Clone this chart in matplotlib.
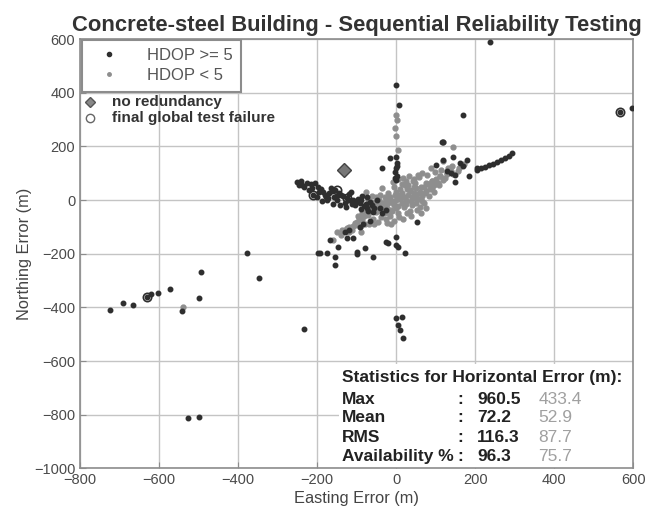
import matplotlib
matplotlib.use("Agg")
import matplotlib.pyplot as plt
from matplotlib.patches import Rectangle
from matplotlib.lines import Line2D

plt.rcParams['font.family'] = ['Liberation Sans', 'DejaVu Sans']

# position errors with HDOP >= 5 (easting, northing in metres)
hi_east = [-724, -691, -666, -631, -620, -603, -572, -542, -499, -494, -377, -347, -233, -197,
           -527, -499, 238, 0, 8, 170, 567, 598, 116,
           205, 215, 225, 235, 245, 255, 265, 275, 285, 294,
           0, 15, 5, 10, 18,
           -251, -240, -226, -215, -205, -210, -200, -190, -175, -165, -154, -150, -140, -124,
           -115, -109, -100, -91, -85, -73, -73, -58, -48, -60, -130, -180, -160, -40,
           -245, -232, -220, -198, -185, -170, -158, -145, -135, -120, -112, -96, -82, -66,
           -188, -172, -142, -128, -105, -90, -70, -55, -35, -25,
           -238, -212, -196, -178, -162, -148, -118, -104, -88, -76,
           0, 2, -2, 0, 3, 1, -3, 2,
           -91, -109, -124, -167, -147, -192, -175, -154, -154, -99, -78, -58, -20, 0, 23,
           -100, 53, 0, 5, -25, -130, -118, -84, -66,
           149, 205, 162, 180, 143, 119, -35, -15, 100, 130, 150, 185, 170, 120, 140]
hi_north = [-410, -384, -391, -361, -350, -346, -332, -413, -365, -268, -197, -290, -480, -198,
            -812, -808, 590, 430, 354, 317, 328, 343, 216,
            112, 118, 124, 130, 136, 143, 150, 158, 166, 175,
            -440, -436, -466, -484, -514,
            68, 70, 63, 60, 63, 19, 11, 40, 0, 45, 37, 0, 20, 7,
            30, 0, -5, -11, 15, -30, 11, -45, 0, -20, -10, 20, -15, -30,
            55, 48, 38, 50, 30, 25, 10, 28, 15, 22, -15, 5, -22, -8,
            -5, 8, -20, -25, -18, -32, -40, -30, -50, -38,
            58, 45, 30, 12, 32, 18, 0, -12, 2, -14,
            75, 90, 105, 120, 138, 160, 82, 128,
            -100, -142, -142, -149, -175, -198, -198, -212, -242, -194, -179, -212, -160, -168, -198,
            -200, -82, -138, -175, -155, -120, -110, -88, -78,
            67, 119, 138, 150, 160, 216, 119, 156, 130, 110, 95, 90, 128, 150, 100]

# position errors with HDOP < 5
lo_east = [0, 10, -10, 20, -20, 5, -5, 15, -15, 30, -30, 25, -25, 0, 0, 35, -35, 40, -40, 10,
           -10, 45, -45, 50, -50, 20, -20, 55, -55, 60, -60, 30, -30, 70, -70, 65, -65, 40, -40,
           75, -75, 80, -80, 15, -15, 50, -50, 85, -85, 90, -90, 25, -25, 60, -60, 95, -95, 100,
           -100, 35, -35, 105, -105, 110, -110, 45, -45, 70, -70, 120, -120, 5, -5, 130, -130,
           55, -55, 140, 75, -75, 12, -8, 28, -22, 38, 48, -42, 18, 62, -12,
           -140, -160, -150, -118, -88, -68, 160, 172, 118, 96,
           -8, 22, 42, 58, 78, 98, 115, 132, 88, 66, 34, 4, -18, -38, -58, -78, -92, -112,
           -64, -44, -28, -2, 14, 36, 52, 72, 90, 108, 125, 145, 158, 102, 84, 46,
           -26, -48, -70, -96, -86, -104, -124, -136, -52, -32, -16, 6, 26, 48, 66, 84,
           8, 18, 28, 38, -4, -14, -24, 52, 62, 76, 92, 112, 128, 142,
           -540, 120, 144, 0, -2, 2, 0, 4]
lo_north = [0, 5, -5, 10, -10, 20, -20, -10, 10, 20, -20, 0, 0, 30, -30, 35, -30, 10, -10, 40,
            -40, 25, -35, 45, -45, -25, 25, 5, -10, 30, -30, 55, -50, 50, -55, 15, -20, -20, 20,
            35, -45, 60, -60, 60, -60, -10, 10, 40, -50, 70, -70, 70, -70, -25, 15, 55, -65, 80,
            -80, -40, 45, 65, -85, 90, -95, 80, -80, -10, 5, 75, -100, -50, 50, 100, -110,
            95, -90, 110, -30, 30, 15, -12, 42, -28, -5, 62, -18, 82, 48, -38,
            -130, -150, -120, -120, -118, -90, 120, 135, 145, 30,
            68, 58, 72, 86, 92, 104, 112, 120, 118, 100, 88, 78, -48, -62, -72, -88, -102, -112,
            -8, 2, 12, 18, 28, 38, 22, 26, 44, 58, 82, 96, 110, 66, 60, 50,
            -44, -28, -36, -58, -76, -94, -104, -112, -6, -12, -2, -22, -14, 8, -2, 14,
            -62, -72, -48, -58, -78, -90, -86, -36, -48, 64, 72, 88, 98, 126,
            -400, 216, 197, 240, 270, 300, 316, 185]

# epochs with no redundancy
nored_east = [-132]
nored_north = [112]

# epochs where the final global test failed
fail_east = [-210, -150, -124, -631, 567]
fail_north = [19, 37, 7, -361, 328]

stat_names = ['Max', 'Mean', 'RMS', 'Availability %']
stat_hi = ['960.5', '72.2', '116.3', '96.3']
stat_lo = ['433.4', '52.9', '87.7', '75.7']

dark = '#2e2e2e'
light = '#8e8e8e'

fig = plt.figure(figsize=(6.48, 5.21), dpi=100)
ax = fig.add_axes([0.1235, 0.101, 0.8535, 0.824])

ax.plot(lo_east, lo_north, '.', color=light, markersize=7, zorder=3)
ax.plot(hi_east, hi_north, '.', color=dark, markersize=6.5, zorder=4)
ax.plot(fail_east, fail_north, 'o', mfc='none', mec=dark, markersize=6, mew=1.2, zorder=5)
ax.plot(nored_east, nored_north, 'D', color='#777777', mec='#444444', markersize=7, zorder=5)

ax.set_xlim(-800, 600)
ax.set_ylim(-1000, 600)
ax.set_xticks(range(-800, 601, 200))
ax.set_yticks(range(-1000, 601, 200))
ax.set_axisbelow(True)
ax.grid(True, color='#c4c4c4', linewidth=1)
ax.tick_params(direction='in', length=4, colors='#8c8c8c', labelcolor='#4a4a4a', labelsize=10.5)
for sp in ax.spines.values():
    sp.set_color('#8c8c8c')
    sp.set_linewidth(1.2)

ax.set_xlabel('Easting Error (m)', fontsize=11.8, color='#444444', labelpad=3)
ax.set_ylabel('Northing Error (m)', fontsize=11.8, color='#444444', labelpad=1)
ax.set_title('Concrete-steel Building - Sequential Reliability Testing',
             fontsize=15.8, fontweight='bold', color='#333333', pad=6)

handles = [Line2D([], [], ls='none', marker='.', color=dark, markersize=6),
           Line2D([], [], ls='none', marker='.', color=light, markersize=5)]
leg = ax.legend(handles, ['HDOP >= 5', 'HDOP < 5'], loc='upper left',
                bbox_to_anchor=(0.004, 0.998), borderaxespad=0, fancybox=False,
                fontsize=12, handlelength=2.2, handletextpad=1.2, borderpad=0.5,
                labelspacing=0.3, framealpha=1)
leg.get_frame().set_edgecolor('#8c8c8c')
leg.get_frame().set_linewidth(1.5)
for t in leg.get_texts():
    t.set_color('#555555')

# marker key under the legend
ax.plot([-775], [365], 'D', color='#888888', mec='#555555', markersize=5, zorder=6)
ax.plot([-775], [305], 'o', mfc='none', mec='#666666', markersize=6, zorder=6)
ax.text(-720, 365, 'no redundancy', fontsize=11, fontweight='bold', color='#333333', va='center')
ax.text(-720, 305, 'final global test failure', fontsize=11, fontweight='bold',
        color='#333333', va='center')

# statistics block
ax.add_patch(Rectangle((-145, -1000), 745, 388, facecolor='white', edgecolor='none', zorder=2))
ax.text(-137, -663, 'Statistics for Horizontal Error (m):', fontsize=12.5, fontweight='bold',
        color='#222222', va='center', zorder=6)
row_y = [-745, -812, -886, -957]
for name, hi, lo, y in zip(stat_names, stat_hi, stat_lo, row_y):
    ax.text(-137, y, name, fontsize=12.5, fontweight='bold', color='#222222', va='center', zorder=6)
    ax.text(154, y, ':', fontsize=12.5, fontweight='bold', color='#222222', va='center', zorder=6)
    ax.text(205, y, hi, fontsize=12.5, fontweight='bold', color='#222222', va='center', zorder=6)
    ax.text(360, y, lo, fontsize=12.5, color='#a0a0a0', va='center', zorder=6)

fig.savefig('out.png', dpi=100)
